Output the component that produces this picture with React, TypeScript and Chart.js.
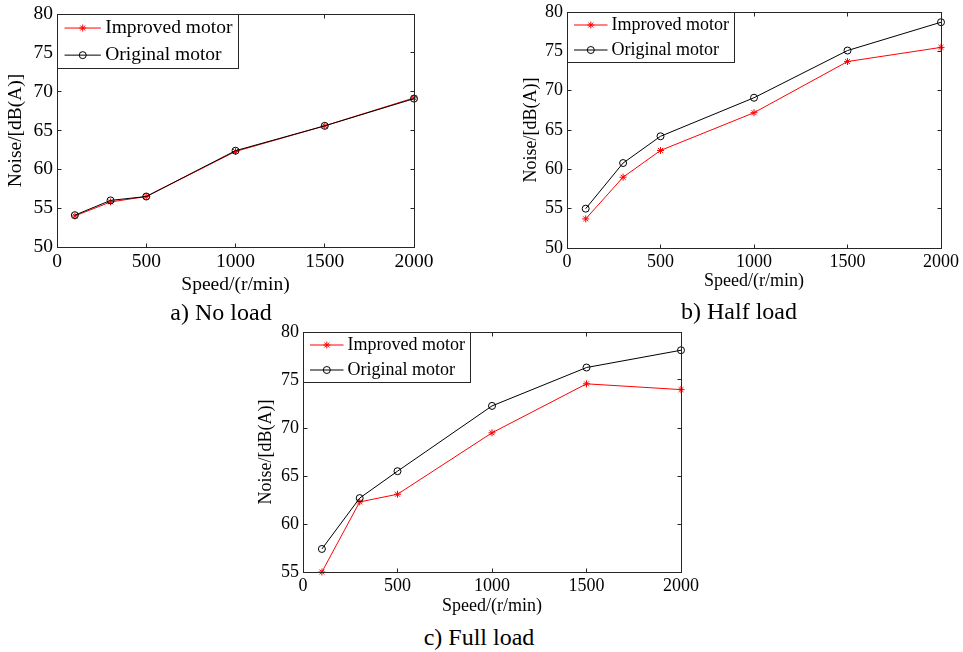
import React, { useEffect, useRef } from "react";
import { Chart, registerables } from "chart.js";

Chart.register(...registerables);

const FONT = '"Liberation Serif", "Times New Roman", serif';

// ---- data ----
const speeds = [100, 300, 500, 1000, 1500, 2000];
const noLoadImproved = [54.0, 55.8, 56.5, 62.3, 65.6, 69.2];
const noLoadOriginal = [54.1, 56.0, 56.5, 62.4, 65.6, 69.1];
const halfLoadImproved = [53.7, 59.0, 62.4, 67.2, 73.7, 75.5];
const halfLoadOriginal = [55.0, 60.8, 64.2, 69.1, 75.1, 78.7];
const fullLoadImproved = [55.0, 62.3, 63.1, 69.5, 74.6, 74.0];
const fullLoadOriginal = [57.4, 62.7, 65.5, 72.3, 76.3, 78.1];
const seriesNames = ["Improved motor", "Original motor"];
const xTickValues = [0, 500, 1000, 1500, 2000];
const yTicksAB = [50, 55, 60, 65, 70, 75, 80];
const yTicksC = [55, 60, 65, 70, 75, 80];
const captions = ["a) No load", "b) Half load", "c) Full load"];
const xTitle = "Speed/(r/min)";
const yTitle = "Noise/[dB(A)]";

type Rect = { left: number; top: number; width: number; height: number };
type Panel = {
  key: string;
  improved: number[];
  original: number[];
  yTicks: number[];
  caption: string;
  canvas: Rect;
  plot: { left: number; top: number; right: number; bottom: number };
  yTitleX: number;
  xTitleY: number;
  font: number;
  captionX: number;
  captionY: number;
};

const panels: Panel[] = [
  {
    key: "a",
    improved: noLoadImproved,
    original: noLoadOriginal,
    yTicks: yTicksAB,
    caption: captions[0],
    canvas: { left: 0, top: 0, width: 440, height: 300 },
    plot: { left: 57, top: 14, right: 414, bottom: 247 },
    yTitleX: 16,
    xTitleY: 284.5,
    font: 19.5,
    captionX: 221,
    captionY: 311.5,
  },
  {
    key: "b",
    improved: halfLoadImproved,
    original: halfLoadOriginal,
    yTicks: yTicksAB,
    caption: captions[1],
    canvas: { left: 505, top: 0, width: 458, height: 300 },
    plot: { left: 567, top: 12, right: 941, bottom: 248 },
    yTitleX: 531,
    xTitleY: 281.7,
    font: 18,
    captionX: 739,
    captionY: 311,
  },
  {
    key: "c",
    improved: fullLoadImproved,
    original: fullLoadOriginal,
    yTicks: yTicksC,
    caption: captions[2],
    canvas: { left: 250, top: 320, width: 450, height: 300 },
    plot: { left: 303, top: 332, right: 681, bottom: 572 },
    yTitleX: 266,
    xTitleY: 606.5,
    font: 18,
    captionX: 479,
    captionY: 636.5,
  },
];

const FRAME = "#262626";

function drawMarker(ctx: CanvasRenderingContext2D, style: string, x: number, y: number, r: number, color: string) {
  ctx.save();
  ctx.strokeStyle = color;
  ctx.lineWidth = 1;
  ctx.beginPath();
  if (style === "circle") {
    ctx.arc(x, y, r, 0, Math.PI * 2);
  } else {
    const d = r * Math.SQRT1_2;
    ctx.moveTo(x - r, y);
    ctx.lineTo(x + r, y);
    ctx.moveTo(x, y - r);
    ctx.lineTo(x, y + r);
    ctx.moveTo(x - d, y - d);
    ctx.lineTo(x + d, y + d);
    ctx.moveTo(x - d, y + d);
    ctx.lineTo(x + d, y - d);
  }
  ctx.stroke();
  ctx.restore();
}

const framePlugin = {
  id: "matlabFrame",
  afterDraw(chart: any) {
    const { ctx, chartArea, scales } = chart;
    const fs = chart.options.plugins.matlabFrame.font as number;
    const L = Math.floor(chartArea.left) + 0.5;
    const R = Math.floor(chartArea.right) + 0.5;
    const T = Math.floor(chartArea.top) + 0.5;
    const B = Math.floor(chartArea.bottom) + 0.5;
    ctx.save();
    ctx.strokeStyle = FRAME;
    ctx.lineWidth = 1;
    ctx.strokeRect(L, T, R - L, B - T);
    const tl = 4;
    ctx.beginPath();
    scales.x.ticks.forEach((t: any) => {
      const px = Math.floor(scales.x.getPixelForValue(t.value)) + 0.5;
      ctx.moveTo(px, B);
      ctx.lineTo(px, B - tl);
      ctx.moveTo(px, T);
      ctx.lineTo(px, T + tl);
    });
    scales.y.ticks.forEach((t: any) => {
      const py = Math.floor(scales.y.getPixelForValue(t.value)) + 0.5;
      ctx.moveTo(L, py);
      ctx.lineTo(L + tl, py);
      ctx.moveTo(R, py);
      ctx.lineTo(R - tl, py);
    });
    ctx.stroke();

    // legend box
    const s = fs / 18;
    ctx.font = `${fs}px ${FONT}`;
    const datasets = chart.data.datasets;
    const maxW = Math.max(...datasets.map((d: any) => ctx.measureText(d.label).width));
    const boxW = Math.round(44 * s + maxW + 6 * s);
    const boxH = Math.round(49.5 * s);
    ctx.fillStyle = "#ffffff";
    ctx.fillRect(L, T, boxW, boxH);
    ctx.strokeStyle = FRAME;
    ctx.strokeRect(L, T, boxW, boxH);
    datasets.forEach((d: any, i: number) => {
      const cy = T + (12.5 + 25 * i) * s;
      ctx.beginPath();
      ctx.strokeStyle = d.borderColor;
      ctx.lineWidth = 1;
      ctx.moveTo(L + 6.5 * s, cy);
      ctx.lineTo(L + 40 * s, cy);
      ctx.stroke();
      drawMarker(ctx, d.pointStyle, L + 23.3 * s, cy, 3.5, d.borderColor);
      ctx.fillStyle = "#000";
      ctx.textBaseline = "middle";
      ctx.textAlign = "left";
      ctx.fillText(d.label, L + 44 * s, cy);
    });
    ctx.restore();
  },
};

function PanelChart({ p }: { p: Panel }) {
  const ref = useRef<HTMLCanvasElement | null>(null);
  const c = p.canvas;
  useEffect(() => {
    const pl = p.plot;
    const lh = p.font * 1.2;
    const xAxisH = p.xTitleY + lh / 2 - pl.bottom;
    const yW = pl.left - c.left;
    const fontObj = { family: FONT, size: p.font };
    const chart = new Chart(ref.current as HTMLCanvasElement, {
      type: "line",
      data: {
        datasets: [
          {
            label: seriesNames[0],
            data: speeds.map((x, i) => ({ x, y: p.improved[i] })),
            borderColor: "#ff0000",
            backgroundColor: "#ff0000",
            borderWidth: 1,
            pointStyle: "star",
            pointRadius: 3.5,
            pointHoverRadius: 3.5,
            pointBorderColor: "#ff0000",
            pointBorderWidth: 1,
            tension: 0,
            clip: false,
            order: 1,
          },
          {
            label: seriesNames[1],
            data: speeds.map((x, i) => ({ x, y: p.original[i] })),
            borderColor: "#000000",
            backgroundColor: "rgba(0,0,0,0)",
            borderWidth: 1,
            pointStyle: "circle",
            pointRadius: 3.5,
            pointHoverRadius: 3.5,
            pointBorderColor: "#000000",
            pointBackgroundColor: "rgba(0,0,0,0)",
            pointBorderWidth: 1,
            tension: 0,
            clip: false,
            order: 0,
          },
        ],
      } as any,
      options: {
        animation: false,
        responsive: false,
        maintainAspectRatio: false,
        events: [],
        layout: {
          padding: {
            left: 0,
            top: pl.top - c.top,
            right: c.left + c.width - pl.right,
            bottom: c.top + c.height - pl.bottom - xAxisH,
          },
        },
        plugins: {
          legend: { display: false },
          tooltip: { enabled: false },
          title: { display: false },
          matlabFrame: { font: p.font },
        } as any,
        scales: {
          x: {
            type: "linear",
            min: xTickValues[0],
            max: xTickValues[xTickValues.length - 1],
            grid: { display: false, drawTicks: false },
            border: { display: false },
            afterBuildTicks: (s: any) => {
              s.ticks = xTickValues.map((v) => ({ value: v }));
            },
            ticks: {
              font: fontObj,
              color: "#000",
              padding: 3,
              maxRotation: 0,
              autoSkip: false,
              callback: (v: any) => String(v),
            },
            title: { display: true, text: xTitle, font: fontObj, color: "#000", padding: { top: 0, bottom: 0 } },
            afterFit: (s: any) => {
              s.height = xAxisH;
              s.paddingLeft = 0;
              s.paddingRight = 0;
            },
          },
          y: {
            type: "linear",
            min: p.yTicks[0],
            max: p.yTicks[p.yTicks.length - 1],
            grid: { display: false, drawTicks: false },
            border: { display: false },
            afterBuildTicks: (s: any) => {
              s.ticks = p.yTicks.map((v) => ({ value: v }));
            },
            ticks: {
              font: fontObj,
              color: "#000",
              padding: 4,
              autoSkip: false,
              callback: (v: any) => String(v),
            },
            title: {
              display: true,
              text: yTitle,
              font: fontObj,
              color: "#000",
              padding: { top: Math.max(0, p.yTitleX - c.left - lh / 2), bottom: 0 },
            },
            afterFit: (s: any) => {
              s.width = yW;
              s.paddingTop = 0;
              s.paddingBottom = 0;
            },
          },
        },
      } as any,
      plugins: [framePlugin as any],
    });
    return () => chart.destroy();
  }, [p]);
  return (
    <canvas
      ref={ref}
      width={c.width}
      height={c.height}
      style={{ position: "absolute", left: c.left, top: c.top, width: c.width, height: c.height }}
    />
  );
}

export default function App() {
  return (
    <div
      style={{
        position: "absolute",
        left: 0,
        top: 0,
        width: 963,
        height: 652,
        background: "#ffffff",
        overflow: "hidden",
      }}
    >
      {panels.map((p) => (
        <PanelChart key={p.key} p={p} />
      ))}
      {panels.map((p) => (
        <div
          key={"cap" + p.key}
          style={{
            position: "absolute",
            left: p.captionX - 100,
            width: 200,
            top: p.captionY - 12,
            height: 24,
            lineHeight: "24px",
            fontSize: 24,
            fontFamily: FONT,
            textAlign: "center",
            color: "#000",
            whiteSpace: "nowrap",
          }}
        >
          {p.caption}
        </div>
      ))}
    </div>
  );
}
